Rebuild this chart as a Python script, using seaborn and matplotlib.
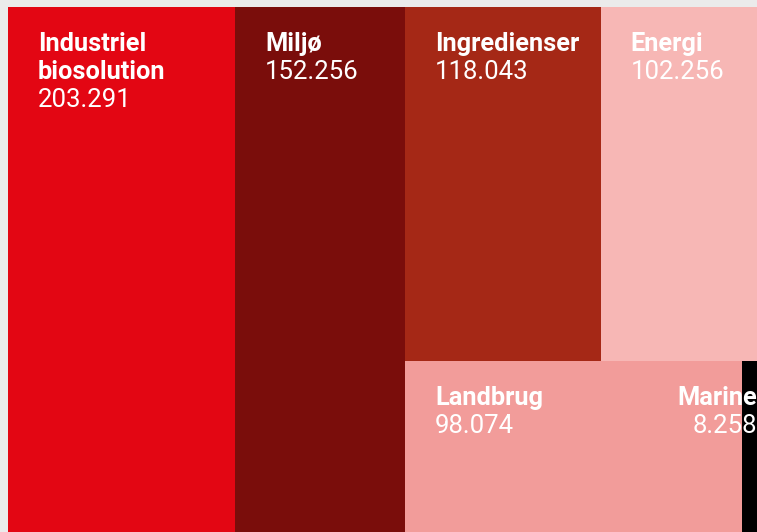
import matplotlib
matplotlib.use("Agg")
import matplotlib.pyplot as plt
import seaborn as sns
from matplotlib.patches import Rectangle

# ---- data ----
categories = ["Industriel\nbiosolution", "Miljø", "Ingredienser", "Energi", "Landbrug", "Marine"]
values = [203.291, 152.256, 118.043, 102.256, 98.074, 8.258]
value_labels = ["203.291", "152.256", "118.043", "102.256", "98.074", "8.258"]
colors = ["#E30613", "#7A0D0B", "#A52816", "#F7B7B5", "#F29C9A", "#000000"]

sns.set_theme(style="white")
plt.rcParams['font.family'] = ['Roboto', 'DejaVu Sans']

W_PX, H_PX = 757, 532
fig = plt.figure(figsize=(W_PX / 100, H_PX / 100), dpi=100)
fig.patch.set_facecolor("#EBEBEB")

# treemap area extends beyond the right edge of the picture (cropped)
left_px, top_px, right_px = 8, 7, 770
ax = fig.add_axes([left_px / W_PX, 0, (right_px - left_px) / W_PX, (H_PX - top_px) / H_PX])
ax.set_axis_off()

total = sum(values)
ax.set_xlim(0, total)
ax.set_ylim(0, 1)

# layout: first two as full-height columns, rest as two rows
rects = []
x = 0.0
for v in values[:2]:
    rects.append((x, 0.0, v, 1.0))
    x += v
rest_w = total - x
rows = [values[2:4], values[4:6]]
y_top = 1.0
for row in rows:
    h = sum(row) / rest_w
    xx = x
    for v in row:
        w = v / h
        rects.append((xx, y_top - h, w, h))
        xx += w
    y_top -= h

px_per_x = (right_px - left_px) / total
for (rx, ry, rw, rh), c, name, lab in zip(rects, colors, categories, value_labels):
    ax.add_patch(Rectangle((rx, ry), rw, rh, facecolor=c, edgecolor="none"))
    lines = name.split("\n")
    width_px = rw * px_per_x
    if width_px < 120:
        anchor_x, dx, ha = rx + rw, -13, "right"
    else:
        anchor_x, dx, ha = rx, 30, "left"
    base = -44
    for i, ln in enumerate(lines):
        ax.annotate(ln, xy=(anchor_x, ry + rh), xytext=(dx, base - 28 * i),
                    textcoords="offset pixels", ha=ha, va="baseline",
                    color="white", fontsize=18.3, fontweight="bold", annotation_clip=False)
    ax.annotate(lab, xy=(anchor_x, ry + rh), xytext=(dx, base - 28 * len(lines)),
                textcoords="offset pixels", ha=ha, va="baseline",
                color="white", fontsize=18.5, fontweight="normal", annotation_clip=False)

fig.savefig("out.png", dpi=100, facecolor=fig.get_facecolor())
